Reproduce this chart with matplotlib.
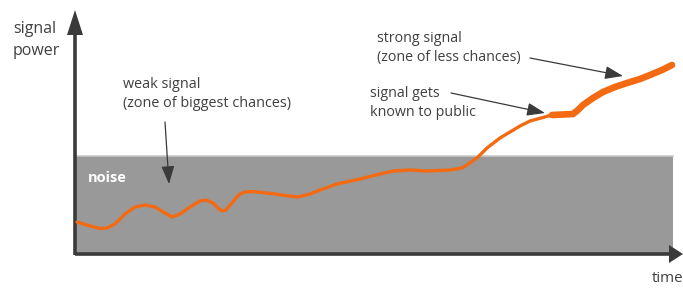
import matplotlib
matplotlib.use("Agg")
import matplotlib.pyplot as plt
from matplotlib.patches import Rectangle, Polygon

plt.rcParams['font.family'] = ['Open Sans', 'DejaVu Sans']

# ---- data (time, signal power), chart units ----
weak_time = [77, 90, 100, 107, 115, 125, 135, 145, 155, 165, 172, 180, 190, 200,
             206, 213, 218, 222, 226, 231, 236, 240, 245, 252, 262, 275, 285, 298, 310, 320,
             337, 360, 380, 393, 410, 427, 450, 462, 470, 478, 487, 500, 510,
             520, 530, 541, 552]
weak_power = [66, 62, 59.5, 60, 64, 74, 81, 83, 81, 75, 71, 74, 81, 87,
              88, 85, 80, 77, 78, 84, 90, 94, 96, 96.5, 95.5, 94, 92.5, 91, 94, 98,
              104, 109, 114, 117, 118, 117, 118, 120, 125, 131, 140, 150, 156,
              162, 167, 170, 173]
strong_time = [552, 563, 573, 578, 583, 593, 603, 615, 627, 640, 650, 662, 672]
strong_power = [173, 173.5, 174, 178, 183, 190, 196, 201, 205, 209, 213, 218, 223]

noise_level = 132          # top of noise band
noise_end = 673            # right end of noise band
axis_len_x = 683
axis_len_y = 278

fig = plt.figure(figsize=(6.83, 2.88), dpi=100)
ax = fig.add_axes([0, 0, 1, 1])
ax.set_xlim(0, 683)
ax.set_ylim(0, 288)
ax.axis('off')

origin_x, origin_y = 75, 34
axis_col = '#3a3a3a'
txt_col = '#404040'
orange = '#f36a12'

# noise band
ax.add_patch(Rectangle((origin_x, origin_y), noise_end - origin_x, noise_level - origin_y,
                       facecolor='#999999', edgecolor='none', zorder=1))
ax.plot([origin_x, noise_end], [noise_level, noise_level], color='#c9c9c9', lw=1.2, zorder=1.5)
ax.text(88, 110, 'noise', color='white', fontsize=10.5, fontweight='bold',
        ha='left', va='center', zorder=2)

# axes with arrows
ax.plot([origin_x, 672], [origin_y, origin_y], color=axis_col, lw=2.6, solid_capstyle='butt', zorder=3)
ax.plot([origin_x, origin_x], [origin_y - 1.3, 255], color=axis_col, lw=2.6, solid_capstyle='butt', zorder=3)
ax.add_patch(Polygon([[669, origin_y + 9], [axis_len_x, origin_y], [669, origin_y - 9]],
                     closed=True, facecolor=axis_col, edgecolor='none', zorder=3))
ax.add_patch(Polygon([[origin_x - 8, 253], [origin_x, axis_len_y], [origin_x + 8, 253]],
                     closed=True, facecolor=axis_col, edgecolor='none', zorder=3))

# signal curve
ax.plot(weak_time, weak_power, color=orange, lw=2.4, solid_joinstyle='round',
        solid_capstyle='round', zorder=4)
ax.plot(strong_time, strong_power, color=orange, lw=4.8, solid_joinstyle='round',
        solid_capstyle='round', zorder=4)

# labels
ax.text(13, 248, 'signal\npower', color=txt_col, fontsize=11.5, ha='left', va='center',
        linespacing=1.45)
ax.text(683, 10, 'time', color=txt_col, fontsize=10.8, ha='right', va='center')
ax.text(123, 194, 'weak signal\n(zone of biggest chances)', color=txt_col, fontsize=10.4,
        ha='left', va='center', linespacing=1.4)
ax.text(377, 240, 'strong signal\n(zone of less chances)', color=txt_col, fontsize=10.3,
        ha='left', va='center', linespacing=1.45)
ax.text(370, 185, 'signal gets\nknown to public', color=txt_col, fontsize=10.3,
        ha='left', va='center', linespacing=1.45)

arrow_kw = dict(arrowstyle='-|>,head_length=1.1,head_width=0.4', color=axis_col, lw=0.9,
                shrinkA=0, shrinkB=0)
ax.annotate('', xy=(169, 104), xytext=(165, 166), arrowprops=arrow_kw, zorder=5)
ax.annotate('', xy=(545, 175), xytext=(451, 195), arrowprops=arrow_kw, zorder=5)
ax.annotate('', xy=(623, 212), xytext=(530, 230), arrowprops=arrow_kw, zorder=5)

fig.savefig('out.png', dpi=100, facecolor='white')
